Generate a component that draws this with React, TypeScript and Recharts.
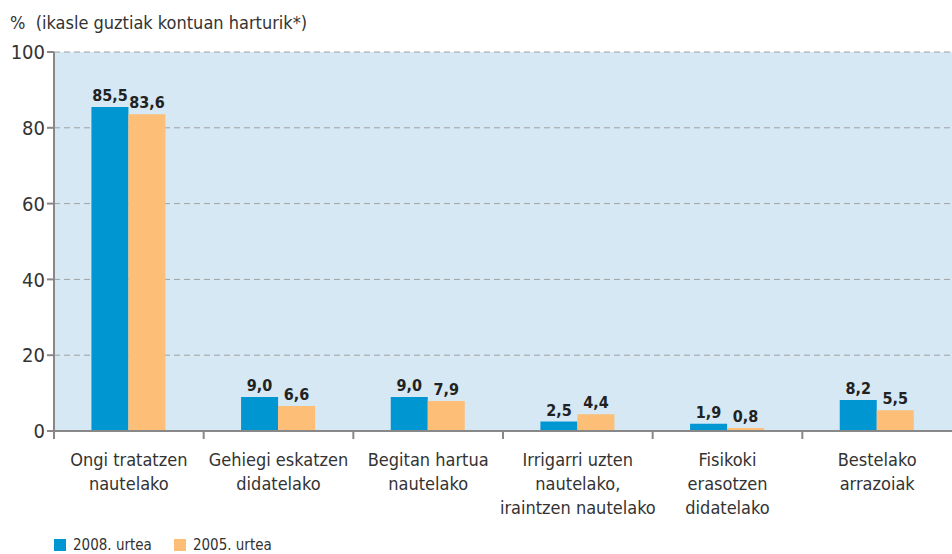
import { BarChart, Bar, XAxis, YAxis, CartesianGrid, LabelList } from 'recharts';

const categories = [
  'Ongi tratatzen|nautelako',
  'Gehiegi eskatzen|didatelako',
  'Begitan hartua|nautelako',
  'Irrigarri uzten|nautelako,|iraintzen nautelako',
  'Fisikoki|erasotzen|didatelako',
  'Bestelako|arrazoiak',
];
const values2008 = [85.5, 9.0, 9.0, 2.5, 1.9, 8.2];
const values2005 = [83.6, 6.6, 7.9, 4.4, 0.8, 5.5];
const yTicks = [0, 20, 40, 60, 80, 100];

const BLUE = '#0096d2';
const ORANGE = '#fdbe78';
const FONT = '"Liberation Sans Narrow", "DejaVu Sans Condensed", Arial, sans-serif';
const TEXT = '#333';

const data = categories.map((c, i) => ({ name: c, y2008: values2008[i], y2005: values2005[i] }));

const fmt = (v: any) => Number(v).toFixed(1).replace('.', ',');

const CHART_W = 952;
const PLOT_LEFT = 54;
const BAND = (CHART_W - PLOT_LEFT) / categories.length;

function CategoryTick(props: any) {
  const { x, y, payload } = props;
  const lines: string[] = String(payload.value).split('|');
  const left = x - BAND / 2;
  return (
    <g>
      <line x1={left} y1={y - 8} x2={left} y2={y} stroke="#888" strokeWidth={2} />
      <text textAnchor="middle" fontFamily={FONT} fontSize={18} fill={TEXT}>
        {lines.map((l, i) => (
          <tspan key={i} x={x} y={y + 27 + i * 24}>{l}</tspan>
        ))}
      </text>
    </g>
  );
}

export default function App() {
  return (
    <div style={{ position: 'relative', width: CHART_W, height: 554, overflow: 'hidden' }}>
      <style>{'body{margin:0}'}</style>
      <div style={{ position: 'absolute', left: 10, top: 12, fontFamily: FONT, fontSize: 18, color: TEXT, whiteSpace: 'pre' }}>
        {'%  (ikasle guztiak kontuan harturik*)'}
      </div>
      <BarChart
        width={CHART_W}
        height={554}
        data={data}
        margin={{ top: 52, right: 0, left: 0, bottom: 115 }}
        barCategoryGap="25%"
        barGap={0}
      >
        <CartesianGrid vertical={false} fill="#d5e8f4" stroke="#a0a0a0" strokeDasharray="6 4" />
        <XAxis
          dataKey="name"
          interval={0}
          tick={<CategoryTick />}
          tickLine={false}
          axisLine={{ stroke: '#888', strokeWidth: 2 }}
          height={8}
        />
        <YAxis
          domain={[0, 100]}
          ticks={yTicks}
          width={PLOT_LEFT}
          tick={{ fontFamily: FONT, fontSize: 20, fill: TEXT }}
          tickLine={{ stroke: '#888', strokeWidth: 2 }}
          tickSize={7}
          axisLine={{ stroke: '#888', strokeWidth: 2 }}
        />
        <Bar dataKey="y2008" fill={BLUE} isAnimationActive={false}>
          <LabelList dataKey="y2008" position="top" formatter={fmt} offset={6}
            style={{ fontFamily: FONT, fontSize: 16, fontWeight: 'bold', fill: '#222' }} />
        </Bar>
        <Bar dataKey="y2005" fill={ORANGE} isAnimationActive={false}>
          <LabelList dataKey="y2005" position="top" formatter={fmt} offset={6}
            style={{ fontFamily: FONT, fontSize: 16, fontWeight: 'bold', fill: '#222' }} />
        </Bar>
      </BarChart>
      <div style={{ position: 'absolute', left: 54, top: 537, height: 16, lineHeight: '16px', display: 'flex', alignItems: 'center', fontFamily: FONT, fontSize: 15, color: TEXT }}>
        <span style={{ width: 12, height: 12, background: BLUE, display: 'inline-block', marginRight: 7 }} />
        <span style={{ marginRight: 22 }}>2008. urtea</span>
        <span style={{ width: 12, height: 12, background: ORANGE, display: 'inline-block', marginRight: 7 }} />
        <span>2005. urtea</span>
      </div>
    </div>
  );
}
